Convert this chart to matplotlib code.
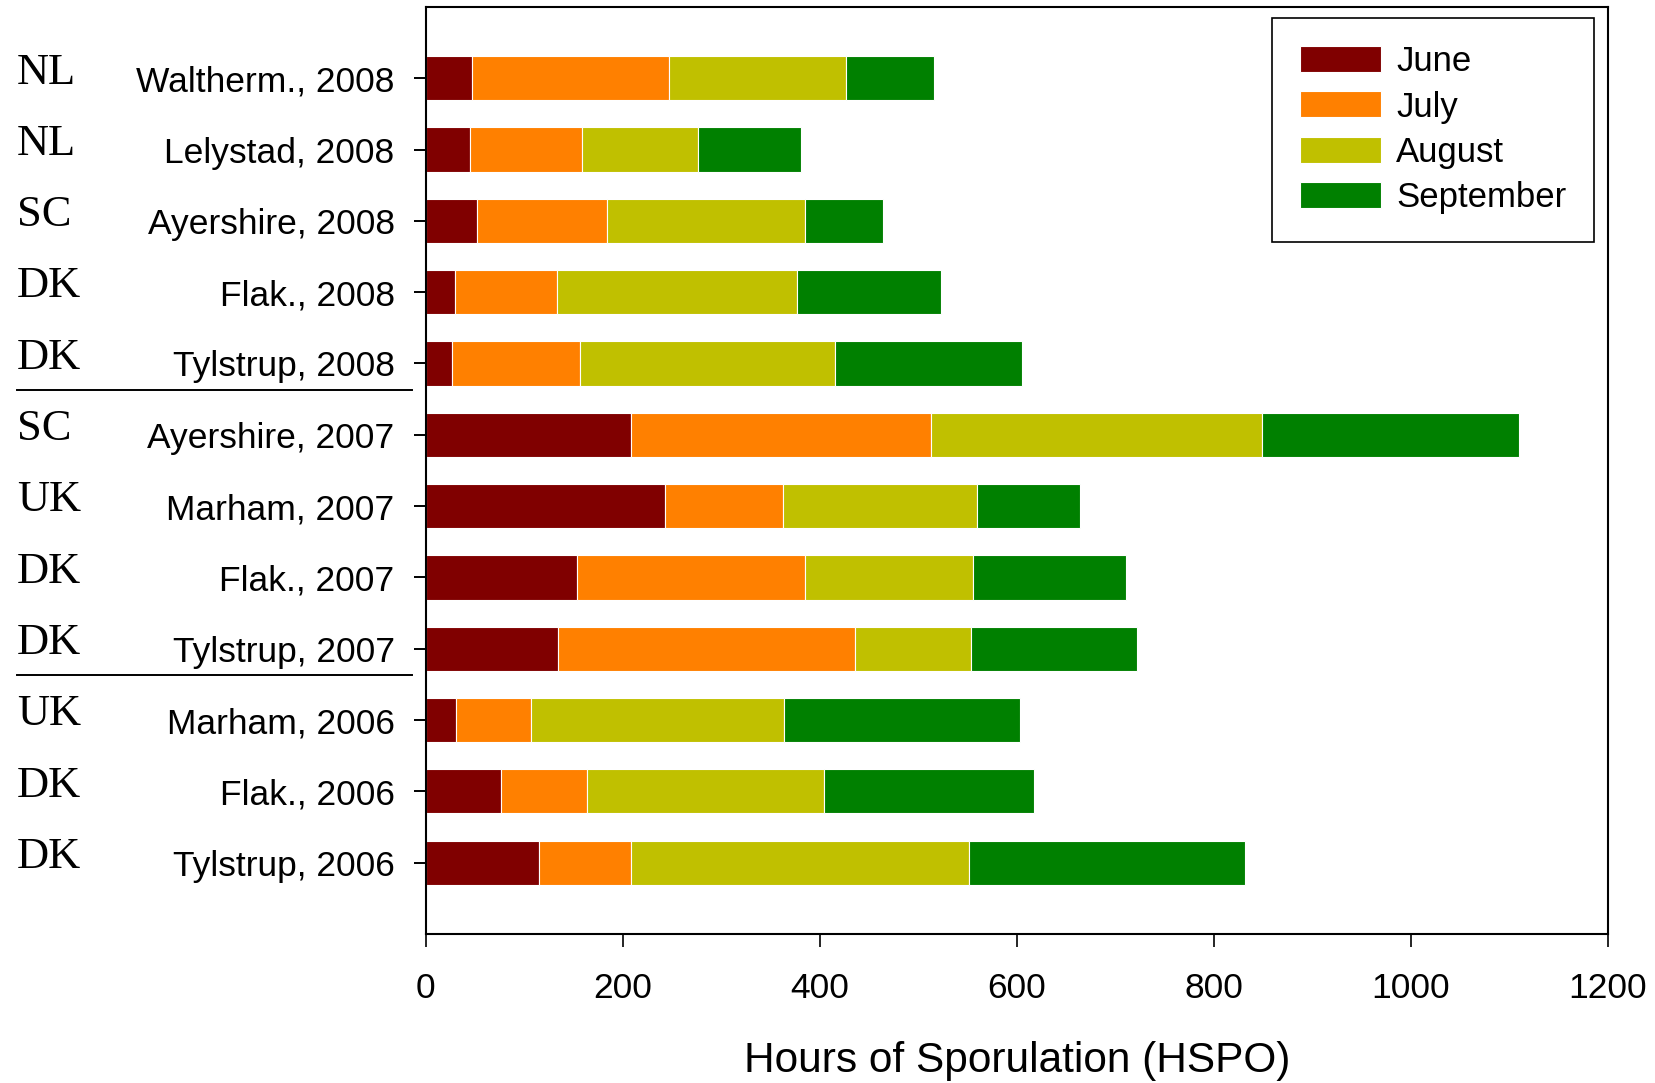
import matplotlib
matplotlib.use("Agg")
import matplotlib.pyplot as plt
import matplotlib.transforms as mtransforms
from matplotlib.lines import Line2D
import numpy as np

# site labels, top to bottom
sites = ["Waltherm., 2008", "Lelystad, 2008", "Ayershire, 2008", "Flak., 2008",
         "Tylstrup, 2008", "Ayershire, 2007", "Marham, 2007", "Flak., 2007",
         "Tylstrup, 2007", "Marham, 2006", "Flak., 2006", "Tylstrup, 2006"]
countries = ["NL", "NL", "SC", "DK", "DK", "SC", "UK", "DK", "DK", "UK", "DK", "DK"]

# hours of sporulation per month
june = [47, 45, 52, 30, 26, 208, 243, 153, 134, 31, 76, 115]
july = [200, 113, 132, 103, 130, 305, 120, 232, 302, 76, 88, 93]
august = [179, 118, 201, 244, 259, 336, 196, 170, 117, 257, 240, 343]
september = [90, 105, 79, 146, 190, 261, 105, 156, 169, 239, 213, 281]

months = ["June", "July", "August", "September"]
colors = ["#800000", "#FF8000", "#C0C000", "#008000"]

fig = plt.figure(figsize=(16.56, 10.83), dpi=100)
ax = fig.add_axes([0.2572, 0.1376, 0.7138, 0.856])

y = np.arange(len(sites))
left = np.zeros(len(sites))
for vals, name, c in zip([june, july, august, september], months, colors):
    ax.barh(y, vals, left=left, height=0.62, color=c, edgecolor="white",
            linewidth=0.8, label=name)
    left += np.array(vals)

ax.set_xlim(0, 1200)
ax.set_ylim(12, -1)
ax.set_xticks(range(0, 1201, 200))
ax.set_yticks(y)
ax.set_yticklabels(sites, family="Liberation Sans", fontsize=25.5)
for lab in ax.get_xticklabels():
    lab.set_family("Liberation Sans")
    lab.set_fontsize(25.5)
ax.tick_params(axis="y", length=8.6, width=1.4, pad=14)
ax.tick_params(axis="x", length=9.4, width=1.2, pad=18)
for sp in ax.spines.values():
    sp.set_linewidth(1.5)

ax.set_xlabel("Hours of Sporulation (HSPO)", family="Liberation Sans",
              fontsize=30.5, labelpad=26)

# country codes and group separators at the far left
trans = mtransforms.blended_transform_factory(fig.transFigure, ax.transData)
for yi, cc in zip(y, countries):
    ax.text(0.0103, yi - 0.08, cc, transform=trans, family="Liberation Serif",
            fontsize=32, va="center", ha="left", clip_on=False)
for ysep in [4.37, 8.37]:
    ax.add_line(Line2D([0.0103, 0.2488], [ysep, ysep], transform=trans,
                       color="black", linewidth=1.4, clip_on=False))

leg = ax.legend(loc="upper right", bbox_to_anchor=(0.9885, 0.9885),
                prop={"family": "Liberation Sans", "size": 25},
                fancybox=False, framealpha=1, edgecolor="black",
                handlelength=2.33, handleheight=0.78, handletextpad=0.45,
                labelspacing=0.35, borderpad=0.8, borderaxespad=0)
leg.get_frame().set_linewidth(1.2)

fig.savefig("out.png", dpi=100)
